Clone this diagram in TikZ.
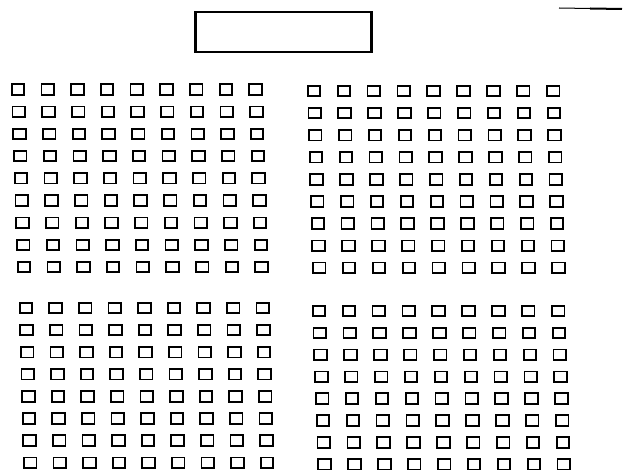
\documentclass[tikz,border=0pt]{standalone}
\usepackage{tikz}

\tikzset{
  seat/.style={draw, line width=1.8pt, minimum width=12.5pt, minimum height=10.5pt, inner sep=0pt},
  stagebox/.style={draw, line width=2.2pt, minimum width=176pt, minimum height=40pt, inner sep=0pt}
}

\begin{document}
\begin{tikzpicture}[x=1pt,y=-1pt]
    \useasboundingbox[fill=white] (0,0) rectangle (625,470);

    % stage
    \node[stagebox] (stage) at (283.5,32) {};
    \coordinate (ma) at (559,8); \coordinate (mm) at (590,8.5); \coordinate (mb) at (622,9);
    \draw[line width=1pt] (ma) -- (mm);
    \draw[line width=2pt] (mm) -- (mb);

    % upper left
    \foreach \r in {0,...,8}
    \foreach \c in {0,...,8}
    { \node[seat] (ul\r\c) at ({18+29.7*\c+0.75*\r},{89.5+22.2*\r}) {}; }

    % upper right
    \foreach \r in {0,...,8}
    \foreach \c in {0,...,8}
    { \node[seat] (ur\r\c) at ({314+29.9*\c+0.65*\r},{91+22.1*\r}) {}; }

    % lower left
    \foreach \r in {0,...,7}
    \foreach \c in {0,...,8}
    { \node[seat] (ll\r\c) at ({26+29.6*\c+0.6*\r},{308+22.1*\r}) {}; }

    % lower right
    \foreach \r in {0,...,7}
    \foreach \c in {0,...,8}
    { \node[seat] (lr\r\c) at ({319+29.9*\c+0.8*\r},{311+21.9*\r}) {}; }

\end{tikzpicture}
\end{document}
